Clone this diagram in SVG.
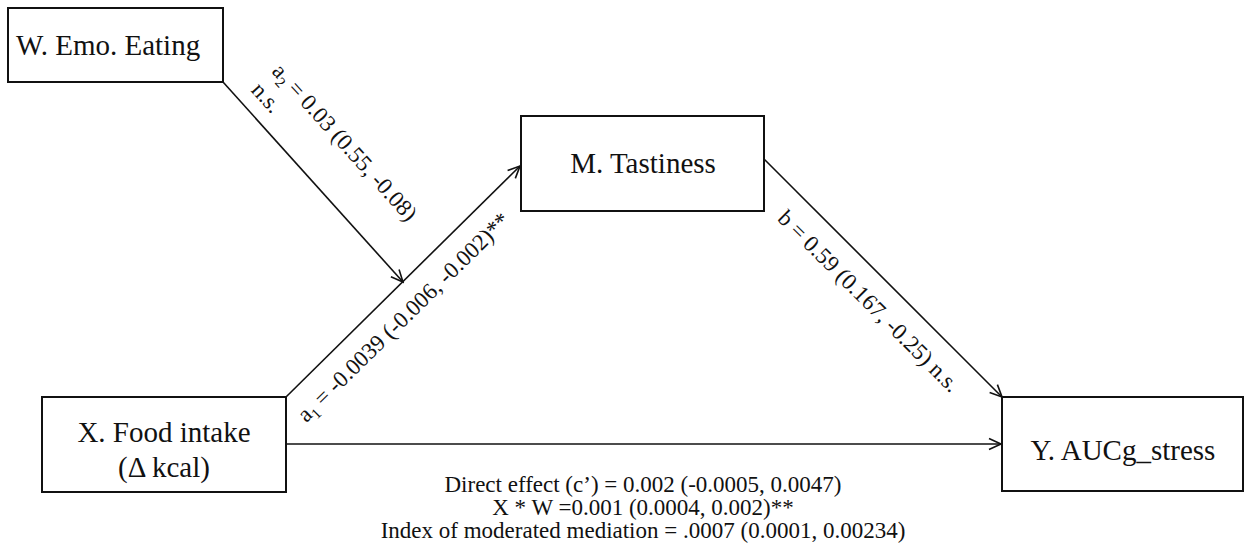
<svg xmlns="http://www.w3.org/2000/svg" width="1247" height="557" viewBox="0 0 1247 557">
<style>
.box{fill:#fff;stroke:#111;stroke-width:2}
.node{font-family:"Liberation Serif","Times New Roman",serif;font-size:29px;fill:#111}
.lbl{font-family:"Liberation Serif","Times New Roman",serif;font-size:23px;fill:#111}
.edge{fill:none;stroke:#111;stroke-width:1.6}
</style>
<defs>
<marker id="arr" markerUnits="userSpaceOnUse" markerWidth="16" markerHeight="16" viewBox="0 0 16 16" refX="14" refY="8" orient="auto">
<path d="M2,2.5 L14,8 L2,13.5" fill="none" stroke="#111" stroke-width="1.6"/>
</marker>
</defs>
<rect width="1247" height="557" fill="#fff"/>
<g id="connectors">
<line class="edge" x1="223" y1="82" x2="403" y2="282" marker-end="url(#arr)"/>
<line class="edge" x1="286" y1="397" x2="520" y2="166" marker-end="url(#arr)"/>
<line class="edge" x1="764" y1="159" x2="1002" y2="397" marker-end="url(#arr)"/>
<line class="edge" x1="286" y1="444" x2="1001" y2="444" marker-end="url(#arr)"/>
<g transform="translate(223,83) rotate(47.87)">
<text class="lbl" x="24" y="-43" font-size="23.5">a<tspan font-size="15" dy="5">2</tspan><tspan dy="-5"> = 0.03 (0.55, -0.08)</tspan></text>
<text class="lbl" x="24" y="-15" font-size="23.5">n.s.</text>
</g>
<g transform="translate(286,397) rotate(-44.5)">
<text class="lbl" x="-4" y="33" font-size="24">a<tspan font-size="15" dy="5">1</tspan><tspan dy="-5"> = -0.0039 (-0.006, -0.002)**</tspan></text>
</g>
<g transform="translate(763,158) rotate(45)">
<text class="lbl" x="53" y="34">b = 0.59 (0.167, -0.25) n.s.</text>
</g>
<g id="effects" class="lbl" text-anchor="middle">
<text x="643" y="492">Direct effect (c’) = 0.002 (-0.0005, 0.0047)</text>
<text x="643" y="515">X * W =0.001 (0.0004, 0.002)**</text>
<text x="643" y="538">Index of moderated mediation = .0007 (0.0001, 0.00234)</text>
</g>
</g>
<g id="node-W">
<rect class="box" x="8" y="8" width="215" height="74"/>
<text class="node" x="16" y="55">W. Emo. Eating</text>
</g>
<g id="node-M">
<rect class="box" x="521" y="116" width="243" height="95"/>
<text class="node" x="643" y="173" text-anchor="middle">M. Tastiness</text>
</g>
<g id="node-X">
<rect class="box" x="42" y="397" width="244" height="95"/>
<text class="node" x="164" y="442" text-anchor="middle">X. Food intake</text>
<text class="node" x="164" y="477" text-anchor="middle">(Δ kcal)</text>
</g>
<g id="node-Y">
<rect class="box" x="1002" y="397" width="241" height="94"/>
<text class="node" x="1123" y="460" text-anchor="middle">Y. AUCg_stress</text>
</g>
</svg>
